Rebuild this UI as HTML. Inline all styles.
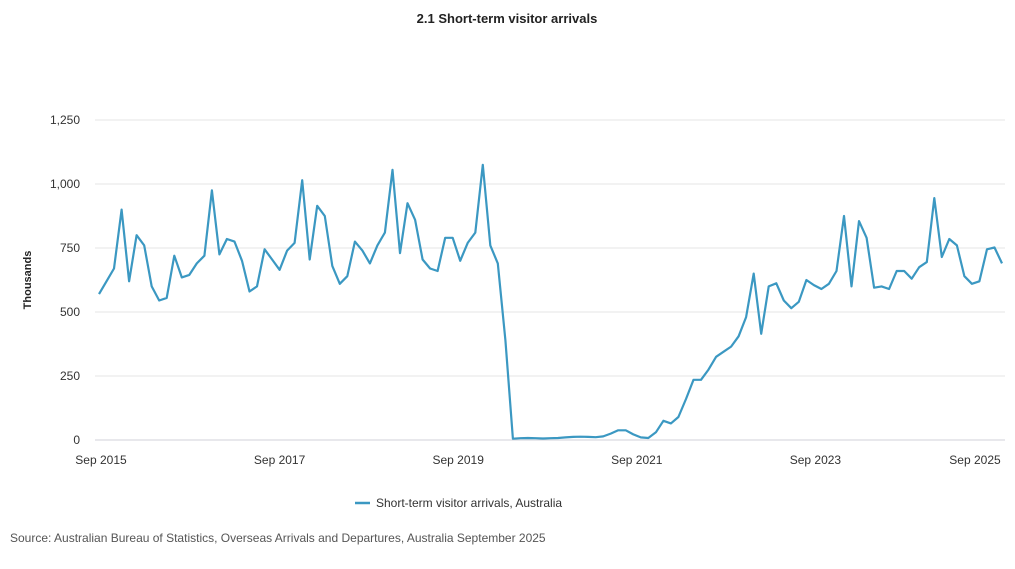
<!DOCTYPE html>
<html><head><meta charset="utf-8"><style>
body{margin:0;background:#fff;font-family:"Liberation Sans",sans-serif;}
svg text{font-family:"Liberation Sans",sans-serif;}
</style></head><body>
<svg width="1015" height="564" id="c">
<text x="507" y="23" text-anchor="middle" font-size="13" font-weight="bold" fill="#222">2.1 Short-term visitor arrivals</text>
<text transform="translate(31,280) rotate(-90)" text-anchor="middle" font-size="11" font-weight="bold" fill="#222">Thousands</text>
<g id="grid"></g><g id="xt"></g>
<path id="line" fill="none" stroke="#3b98c2" stroke-width="2.2" stroke-linejoin="round"/>
<g>
<line x1="355" y1="503" x2="370" y2="503" stroke="#3b98c2" stroke-width="2.5"/>
<text x="376" y="507" font-size="12" fill="#333">Short-term visitor arrivals, Australia</text>
</g>
<text x="10" y="542" font-size="12" fill="#555">Source: Australian Bureau of Statistics, Overseas Arrivals and Departures, Australia September 2025</text>
</svg>
<script>
const yTicks=[0,250,500,750,1000,1250];
const yTickLabels=["0","250","500","750","1,000","1,250"];
const xTickLabels=["Sep 2015","Sep 2017","Sep 2019","Sep 2021","Sep 2023","Sep 2025"];
const xTickMonths=[0,24,48,72,96,120];
const values=[570,620,670,900,
620,800,760,600,545,555,720,635,645,690,720,975,
725,785,775,700,580,600,745,705,665,740,770,1015,
705,915,875,680,610,640,775,740,690,760,810,1055,
730,925,860,705,670,660,790,790,700,770,810,1075,
760,690,390,5,7,8,7,6,7,8,10,12,
13,12,11,14,25,38,38,22,10,8,30,75,
65,90,160,235,235,275,325,345,365,405,480,650,
415,600,612,545,515,540,625,605,590,610,660,875,
600,855,790,595,600,590,660,660,630,675,695,945,
715,785,760,640,610,620,745,752,690];
const ns="http://www.w3.org/2000/svg";
const x=i=>99+i*(903/120);
const y=v=>440-v*0.256;
const xl=i=>Math.min(101+i*(178.6/24),975);
const grid=document.getElementById('grid');
yTicks.forEach((t,k)=>{
 const l=document.createElementNS(ns,'line');
 l.setAttribute('x1',95);l.setAttribute('x2',1005);l.setAttribute('y1',y(t));l.setAttribute('y2',y(t));
 l.setAttribute('stroke',t===0?'#d0d0d8':'#e6e6e6');
 
 
 grid.appendChild(l);
 const tx=document.createElementNS(ns,'text');
 tx.setAttribute('x',80);tx.setAttribute('y',y(t)+4);tx.setAttribute('text-anchor','end');
 tx.setAttribute('font-size','12');tx.setAttribute('fill','#333');tx.textContent=yTickLabels[k];
 
 
 grid.appendChild(tx);
});
const xt=document.getElementById('xt');
xTickLabels.forEach((s,k)=>{
 const tx=document.createElementNS(ns,'text');
 tx.setAttribute('x',xl(xTickMonths[k]));tx.setAttribute('y',464);tx.setAttribute('text-anchor','middle');
 tx.setAttribute('font-size','12');tx.setAttribute('fill','#333');tx.textContent=s;
 
 
 xt.appendChild(tx);
});
document.getElementById('line').setAttribute('d',values.map((v,i)=>(i?'L':'M')+x(i).toFixed(1)+','+y(v).toFixed(1)).join(''));
</script>
</body></html>
